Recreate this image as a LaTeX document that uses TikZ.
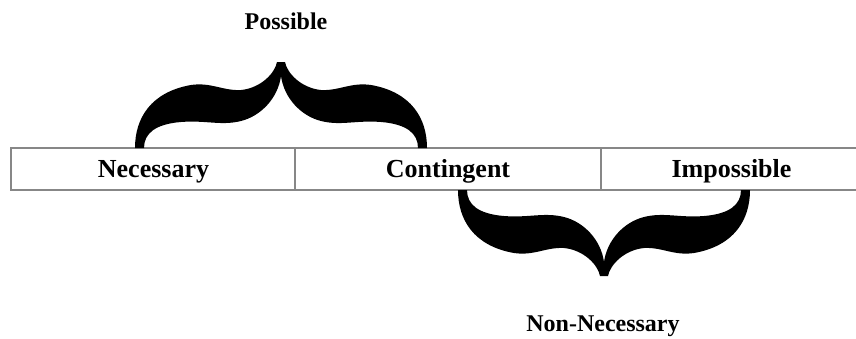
\documentclass[tikz,border=0pt]{standalone}
\usepackage{fontspec}
\setmainfont{Liberation Serif}
\usetikzlibrary{positioning}
\tikzset{
  cell/.style={draw=black!47, line width=2pt, rectangle, minimum height=42pt, inner sep=0pt, font=\fontsize{26}{30}\selectfont\bfseries},
  lbl/.style={font=\fontsize{24}{28}\selectfont\bfseries, inner sep=0pt, anchor=base},
  ctext/.style={font=\fontsize{26}{30}\selectfont\bfseries, inner sep=0pt, anchor=base},
  bracefig/.pic={
    \fill[black] (-146,0) .. controls (-146,-30) and (-130,-56) .. (-90,-63)
      .. controls (-70,-66) and (-58,-57) .. (-40,-58)
      .. controls (-20,-60) and (-6,-75) .. (-4,-86) -- (4,-86)
      .. controls (6,-75) and (20,-60) .. (40,-58)
      .. controls (58,-57) and (70,-66) .. (90,-63)
      .. controls (130,-56) and (146,-30) .. (146,0) -- (137,0)
      .. controls (137,-15) and (125,-24) .. (100,-26)
      .. controls (75,-28) and (60,-22) .. (40,-27)
      .. controls (20,-32) and (3,-50) .. (0,-72)
      .. controls (-3,-50) and (-20,-32) .. (-40,-27)
      .. controls (-60,-22) and (-75,-28) .. (-100,-26)
      .. controls (-125,-24) and (-137,-15) .. (-137,0) -- cycle;
  }
}
\begin{document}
\begin{tikzpicture}[x=1pt,y=-1pt]
\useasboundingbox (0,0) rectangle (856,338);
\begin{scope}
\clip (0,0) rectangle (856,338);
\node[cell, minimum width=284pt] (nec) at (153,169) {};
\node[cell, minimum width=306pt] (con) at (448,169) {};
\node[cell, minimum width=262pt] (imp) at (732,169) {};
\end{scope}
\node[ctext] (nect) at (153.5,177) {Necessary};
\node[ctext] (cont) at (448,177) {Contingent};
\node[ctext] (impt) at (731.5,177) {Impossible};
\coordinate (upbrace) at (281,148);
\coordinate (lowbrace) at (604,190);
\pic at (upbrace) {bracefig};
\pic[yscale=-1] at (lowbrace) {bracefig};
\node[lbl] (poss) at (286,29) {Possible};
\node[lbl] (nonnec) at (603,331) {Non-Necessary};
\end{tikzpicture}
\end{document}
